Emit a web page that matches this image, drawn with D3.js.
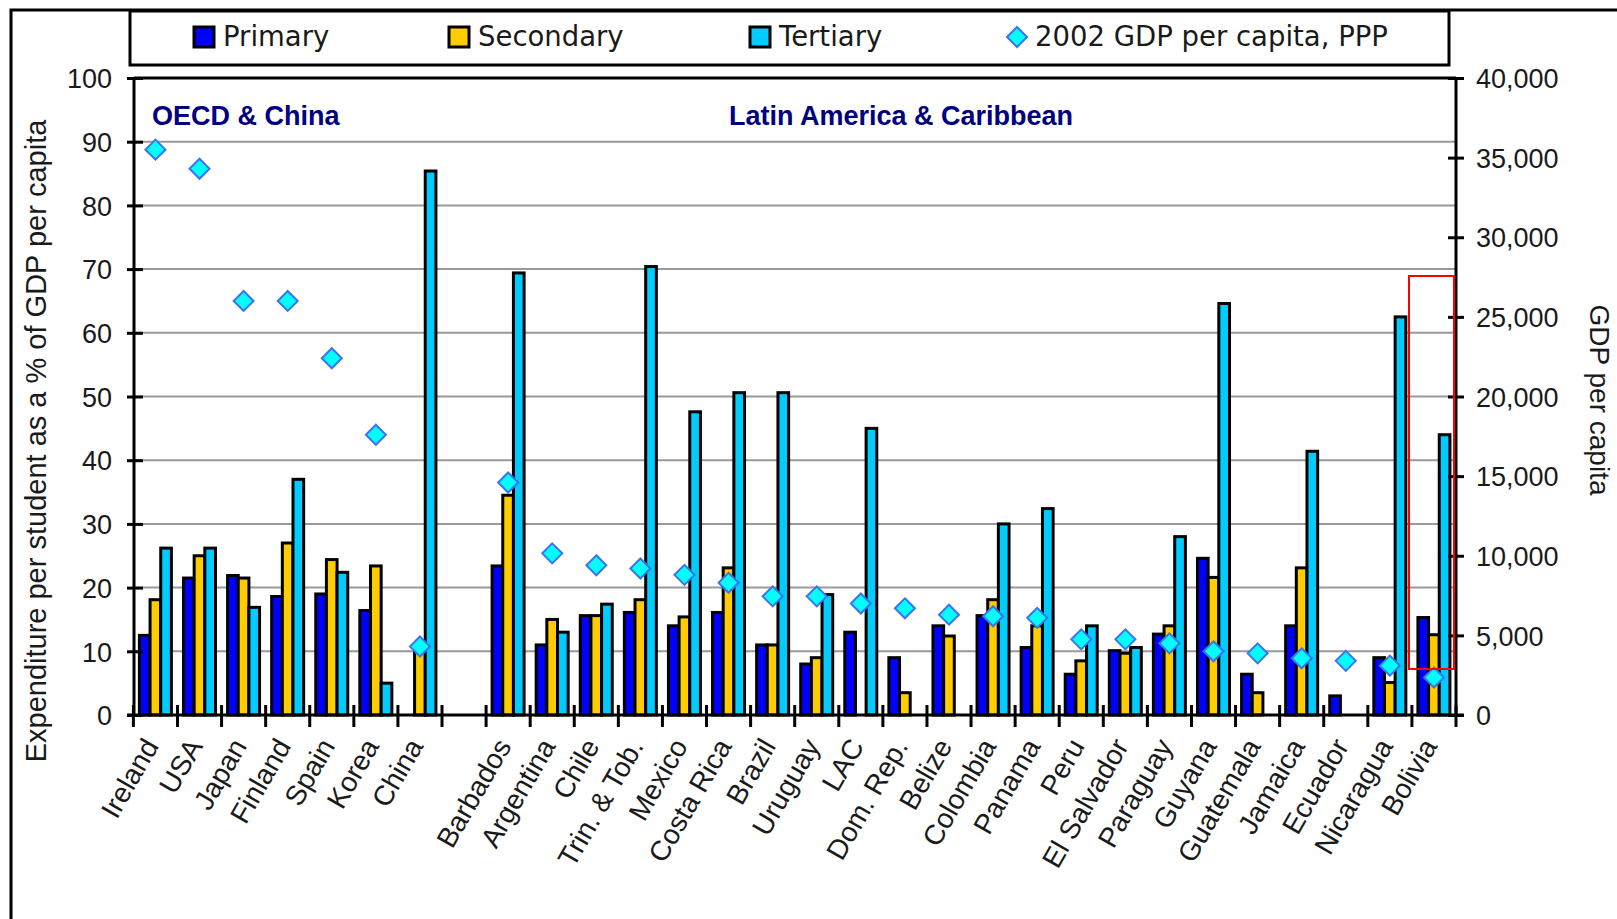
<!DOCTYPE html>
<meta charset="utf-8">
<title>expenditure per student</title>
<style>
    body { margin: 0; background: #fff; }
    svg text { font-family: "Liberation Sans", Arial, sans-serif; fill: #1a1a1a; }
    .legend text { font-family: "DejaVu Sans", sans-serif; }
    .note { font-weight: bold; fill: #000080; }
</style>
<body>
<script src="https://d3js.org/d3.v7.min.js"></script>
<script>
    var width = 1617;
    var height = 919;

    // categories along the x axis, "" is the gap between the two groups
    var categories = ["Ireland", "USA", "Japan", "Finland", "Spain", "Korea", "China", "",
        "Barbados", "Argentina", "Chile", "Trin. & Tob.", "Mexico", "Costa Rica", "Brazil",
        "Uruguay", "LAC", "Dom. Rep.", "Belize", "Colombia", "Panama", "Peru", "El Salvador",
        "Paraguay", "Guyana", "Guatemala", "Jamaica", "Ecuador", "Nicaragua", "Bolivia"];

    // expenditure per student, % of GDP per capita
    var primary = [12.5, 21.5, 21.9, 18.6, 19.0, 16.4, null, null,
        23.4, 11.0, 15.6, 16.1, 14.0, 16.1, 11.0,
        8.0, 13.0, 9.0, 14.0, 15.6, 10.6, 6.4, 10.1,
        12.7, 24.6, 6.4, 14.0, 3.0, 9.0, 15.3];
    var secondary = [18.1, 25.0, 21.5, 27.0, 24.4, 23.4, 10.0, null,
        34.5, 15.0, 15.6, 18.1, 15.4, 23.1, 11.0,
        9.0, null, 3.5, 12.4, 18.1, 14.0, 8.5, 9.7,
        14.0, 21.6, 3.5, 23.1, null, 5.1, 12.6];
    var tertiary = [26.2, 26.2, 16.9, 37.0, 22.4, 5.0, 85.4, null,
        69.4, 13.0, 17.4, 70.4, 47.6, 50.6, 50.6,
        18.9, 45.0, null, null, 30.0, 32.4, 14.0, 10.6,
        28.0, 64.6, null, 41.4, null, 62.5, 44.0];

    // 2002 GDP per capita, PPP (right axis)
    var gdp = [35500, 34300, 26000, 26000, 22400, 17600, 4300, null,
        14600, 10150, 9400, 9200, 8800, 8300, 7450,
        7450, 7000, 6700, 6300, 6200, 6100, 4750, 4750,
        4500, 4000, 3870, 3560, 3400, 3100, 2350];

    var leftTicks = [0, 10, 20, 30, 40, 50, 60, 70, 80, 90, 100];
    var rightTicks = [0, 5000, 10000, 15000, 20000, 25000, 30000, 35000, 40000];

    var seriesNames = ["Primary", "Secondary", "Tertiary"];
    var seriesColors = ["#0000ff", "#ffcc00", "#00ccff"];
    var series = [primary, secondary, tertiary];

    var plot = {left: 134, right: 1456, top: 78, bottom: 715};

    var svg = d3.select("body").append("svg")
        .attr("width", width)
        .attr("height", height);

    // outer frame (only top and left edge are visible)
    svg.append("path")
        .attr("d", "M11,930V10H1630")
        .attr("fill", "none")
        .attr("stroke", "#000")
        .attr("stroke-width", 3);

    var x = d3.scaleBand()
        .domain(categories)
        .range([133.4, plot.right]);

    var xs = d3.scaleBand()
        .domain(seriesNames)
        .range([6, 38]);

    var yL = d3.scaleLinear().domain([0, 100]).range([plot.bottom, plot.top]);
    var yR = d3.scaleLinear().domain([0, 40000]).range([plot.bottom, plot.top]);

    // gridlines
    svg.append("g")
        .selectAll("line")
        .data(leftTicks.slice(1, -1))
        .enter().append("line")
        .attr("x1", plot.left)
        .attr("x2", plot.right)
        .attr("y1", d => yL(d))
        .attr("y2", d => yL(d))
        .attr("stroke", "#999")
        .attr("stroke-width", 2);

    // bars
    var bars = svg.append("g");
    series.forEach(function(vals, k) {
        bars.append("g")
            .selectAll("rect")
            .data(categories.map((c, i) => ({c: c, v: vals[i]})).filter(d => d.v != null))
            .enter().append("rect")
            .attr("x", d => x(d.c) + xs(seriesNames[k]))
            .attr("width", xs.bandwidth())
            .attr("y", d => yL(d.v))
            .attr("height", d => yL(0) - yL(d.v))
            .attr("fill", seriesColors[k])
            .attr("stroke", "#000")
            .attr("stroke-width", 3);
    });

    // plot frame top
    svg.append("line")
        .attr("x1", plot.left).attr("x2", plot.right)
        .attr("y1", plot.top).attr("y2", plot.top)
        .attr("stroke", "#000").attr("stroke-width", 3);

    // left axis
    var axL = svg.append("g")
        .attr("transform", "translate(" + plot.left + ",0)")
        .call(d3.axisLeft(yL).tickValues(leftTicks).tickSize(7).tickPadding(14));
    axL.selectAll(".tick line").attr("x2", -7).attr("x1", 9).attr("stroke-width", 3);
    axL.select(".domain").attr("stroke-width", 3).attr("d", "M0," + plot.top + "V" + plot.bottom);
    axL.selectAll(".tick text")
        .style("font-size", "27px")
        .attr("x", -22)
        .attr("dy", "0.36em");

    // right axis
    var axR = svg.append("g")
        .attr("transform", "translate(" + plot.right + ",0)")
        .call(d3.axisRight(yR).tickValues(rightTicks).tickSize(8).tickFormat(d3.format(",")));
    axR.selectAll(".tick line").attr("x1", -8).attr("x2", 8).attr("stroke-width", 3);
    axR.select(".domain").attr("stroke-width", 3).attr("d", "M0," + plot.top + "V" + plot.bottom);
    axR.selectAll(".tick text")
        .style("font-size", "27px")
        .attr("x", 20)
        .attr("dy", "0.36em");

    // bottom axis
    var axB = svg.append("g")
        .attr("transform", "translate(0," + plot.bottom + ")");
    axB.append("line")
        .attr("x1", 127).attr("x2", plot.right + 8)
        .attr("stroke", "#000").attr("stroke-width", 3);
    axB.selectAll(".btick")
        .data(categories.concat(["end"]))
        .enter().append("line")
        .attr("class", "btick")
        .attr("x1", (d, i) => x.range()[0] + i * x.step())
        .attr("x2", (d, i) => x.range()[0] + i * x.step())
        .attr("y1", -10).attr("y2", 12)
        .attr("stroke", "#000").attr("stroke-width", 3);
    axB.selectAll(".cat")
        .data(categories)
        .enter().append("text")
        .attr("class", "cat")
        .attr("text-anchor", "end")
        .attr("transform", d => "translate(" + (x(d) + x.bandwidth() / 2 + 4) + ",31) rotate(-60)")
        .style("font-size", "28px")
        .text(d => d);

    // GDP diamonds
    svg.append("g")
        .selectAll("path")
        .data(categories.map((c, i) => ({c: c, v: gdp[i]})).filter(d => d.v != null))
        .enter().append("path")
        .attr("d", "M0,-10L10,0L0,10L-10,0Z")
        .attr("transform", d => "translate(" + (x(d.c) + x.bandwidth() / 2) + "," + yR(d.v) + ")")
        .attr("fill", "#00ffff")
        .attr("stroke", "#3d72f0")
        .attr("stroke-width", 2);

    // group labels
    svg.append("text").attr("class", "note")
        .attr("x", 152).attr("y", 125)
        .style("font-size", "27px")
        .text("OECD & China");
    svg.append("text").attr("class", "note")
        .attr("x", 729).attr("y", 125)
        .style("font-size", "27px")
        .text("Latin America & Caribbean");

    // axis titles
    svg.append("text")
        .attr("transform", "translate(46,441) rotate(-90)")
        .attr("text-anchor", "middle")
        .style("font-size", "29px")
        .text("Expenditure per student as a % of GDP per capita");
    svg.append("text")
        .attr("transform", "translate(1590,400) rotate(90)")
        .attr("text-anchor", "middle")
        .style("font-size", "28px")
        .text("GDP per capita");

    // legend
    var legend = svg.append("g").attr("class", "legend");
    legend.append("rect")
        .attr("x", 130).attr("y", 11)
        .attr("width", 1319).attr("height", 54)
        .attr("fill", "#fff")
        .attr("stroke", "#000")
        .attr("stroke-width", 3);
    var legendX = [194, 449, 750];
    seriesNames.forEach(function(name, k) {
        legend.append("rect")
            .attr("x", legendX[k]).attr("y", 27)
            .attr("width", 20).attr("height", 20)
            .attr("fill", seriesColors[k])
            .attr("stroke", "#000")
            .attr("stroke-width", 3);
        legend.append("text")
            .attr("x", legendX[k] + 29).attr("y", 46)
            .style("font-size", "27.5px")
            .text(name);
    });
    legend.append("path")
        .attr("d", "M0,-10L10,0L0,10L-10,0Z")
        .attr("transform", "translate(1017,37)")
        .attr("fill", "#00ffff")
        .attr("stroke", "#3d72f0")
        .attr("stroke-width", 2);
    legend.append("text")
        .attr("x", 1035).attr("y", 46)
        .style("font-size", "27.5px")
        .text("2002 GDP per capita, PPP");

    // red highlight box round Bolivia
    svg.append("rect")
        .attr("x", 1409).attr("y", 276)
        .attr("width", 45).attr("height", 393)
        .attr("fill", "none")
        .attr("stroke", "#ff0000")
        .attr("stroke-width", 2);
</script>
</body>
